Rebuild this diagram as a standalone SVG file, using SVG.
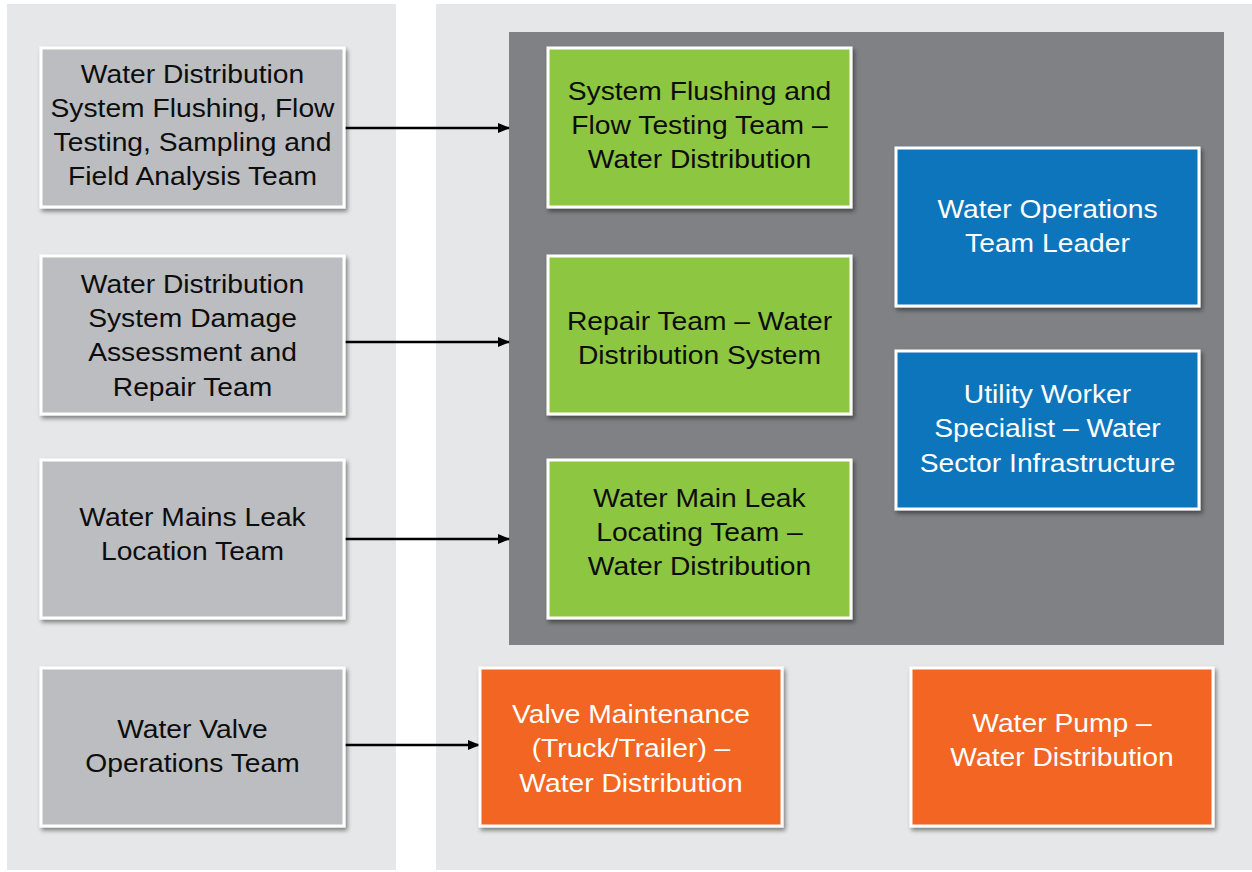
<svg xmlns="http://www.w3.org/2000/svg" width="1252" height="872" viewBox="0 0 1252 872">
<defs>
<style>
.panel{fill:#e6e7e8}
.box{stroke:#ffffff;stroke-width:3;filter:url(#sh)}
.gray{fill:#bcbdc0}
.green{fill:#8dc63f}
.blue{fill:#0f75bc}
.orange{fill:#f26522}
text{font-family:"Liberation Sans",Arial,sans-serif;font-size:25px;text-anchor:middle}
.dk{fill:#0d0d0d}
.wt{fill:#ffffff}
.conn line{stroke:#000;stroke-width:2.5;marker-end:url(#ah)}
</style>
<filter id="sh" x="-10%" y="-10%" width="125%" height="130%">
<feDropShadow dx="2" dy="3" stdDeviation="2" flood-color="#000" flood-opacity="0.45"/>
</filter>
<marker id="ah" markerWidth="12" markerHeight="12" refX="11" refY="5" orient="auto" markerUnits="userSpaceOnUse">
<path d="M0,0 L12,5 L0,10 z" fill="#000"/>
</marker>
</defs>
<rect width="1252" height="872" fill="#ffffff"/>
<rect class="panel" x="7" y="4" width="389" height="866"/>
<rect class="panel" x="436" y="4" width="816" height="866"/>
<rect x="509" y="32" width="715" height="613" fill="#808184"/>

<g class="conn">
<line x1="344" y1="128" x2="509" y2="128"/>
<line x1="344" y1="342" x2="509" y2="342"/>
<line x1="344" y1="539" x2="509" y2="539"/>
<line x1="344" y1="745" x2="479" y2="745"/>
</g>

<g id="g1">
<rect class="box gray" x="41" y="48" width="303" height="159"/>
<g transform="translate(192.5,0) scale(1.13,1)" class="dk">
<text x="0" y="83">Water Distribution</text>
<text x="0" y="117">System Flushing, Flow</text>
<text x="0" y="151">Testing, Sampling and</text>
<text x="0" y="185">Field Analysis Team</text>
</g>
</g>
<g id="g2">
<rect class="box gray" x="41" y="256" width="303" height="158"/>
<g transform="translate(192.5,0) scale(1.13,1)" class="dk">
<text x="0" y="293">Water Distribution</text>
<text x="0" y="327">System Damage</text>
<text x="0" y="361">Assessment and</text>
<text x="0" y="396">Repair Team</text>
</g>
</g>
<g id="g3">
<rect class="box gray" x="41" y="460" width="303" height="158"/>
<g transform="translate(192.5,0) scale(1.13,1)" class="dk">
<text x="0" y="526">Water Mains Leak</text>
<text x="0" y="560">Location Team</text>
</g>
</g>
<g id="g4">
<rect class="box gray" x="41" y="668" width="303" height="158"/>
<g transform="translate(192.5,0) scale(1.13,1)" class="dk">
<text x="0" y="738">Water Valve</text>
<text x="0" y="772">Operations Team</text>
</g>
</g>

<g id="gr1">
<rect class="box green" x="548" y="48" width="303" height="159"/>
<g transform="translate(699.5,0) scale(1.13,1)" class="dk">
<text x="0" y="100">System Flushing and</text>
<text x="0" y="134">Flow Testing Team –</text>
<text x="0" y="168">Water Distribution</text>
</g>
</g>
<g id="gr2">
<rect class="box green" x="548" y="256" width="303" height="158"/>
<g transform="translate(699.5,0) scale(1.13,1)" class="dk">
<text x="0" y="330">Repair Team – Water</text>
<text x="0" y="364">Distribution System</text>
</g>
</g>
<g id="gr3">
<rect class="box green" x="548" y="460" width="303" height="158"/>
<g transform="translate(699.5,0) scale(1.13,1)" class="dk">
<text x="0" y="507">Water Main Leak</text>
<text x="0" y="541">Locating Team –</text>
<text x="0" y="575">Water Distribution</text>
</g>
</g>

<g id="b1">
<rect class="box blue" x="896" y="148" width="303" height="158"/>
<g transform="translate(1047.5,0) scale(1.13,1)" class="wt">
<text x="0" y="218">Water Operations</text>
<text x="0" y="252">Team Leader</text>
</g>
</g>
<g id="b2">
<rect class="box blue" x="896" y="351" width="303" height="158"/>
<g transform="translate(1047.5,0) scale(1.13,1)" class="wt">
<text x="0" y="403">Utility Worker</text>
<text x="0" y="437">Specialist – Water</text>
<text x="0" y="472">Sector Infrastructure</text>
</g>
</g>

<g id="o1">
<rect class="box orange" x="480" y="668" width="302" height="158"/>
<g transform="translate(631,0) scale(1.13,1)" class="wt">
<text x="0" y="723">Valve Maintenance</text>
<text x="0" y="757">(Truck/Trailer) –</text>
<text x="0" y="792">Water Distribution</text>
</g>
</g>
<g id="o2">
<rect class="box orange" x="911" y="668" width="302" height="158"/>
<g transform="translate(1062,0) scale(1.13,1)" class="wt">
<text x="0" y="732">Water Pump –</text>
<text x="0" y="766">Water Distribution</text>
</g>
</g>
</svg>
